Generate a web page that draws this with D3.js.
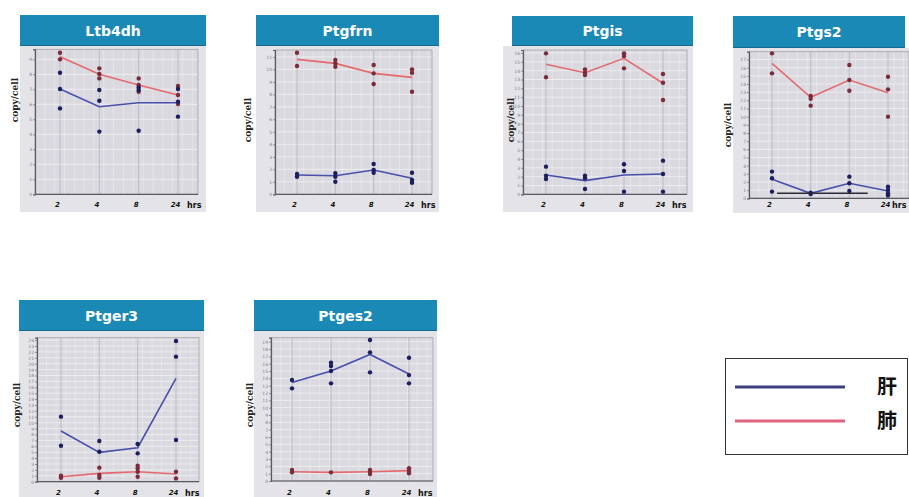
<!DOCTYPE html>
<html>
<head>
<meta charset="utf-8">
<script src="https://cdn.jsdelivr.net/npm/d3@7"></script>
<style>
  html, body { margin: 0; padding: 0; background: #ffffff; }
  svg { display: block; }
</style>
</head>
<body>
<svg id="chart" width="909" height="497"></svg>
<script>
// Gene expression time course, liver (肝) vs lung (肺)
const genes = ["Ltb4dh", "Ptgfrn", "Ptgis", "Ptgs2", "Ptger3", "Ptges2"];
const timeLabels = ["2", "4", "8", "24"];
const yMax = [9.67, 11.55, 16.34, 17.96, 24.4, 19.55];
const yTickCount = [9, 11, 16, 17, 24, 19];

// group means (drawn as lines)
const liverMean = [
  [7.02, 5.84, 6.11, 6.11],
  [1.55, 1.49, 1.95, 1.28],
  [2.19, 1.55, 2.19, 2.30],
  [2.33, 0.61, 1.84, 0.90],
  [8.59, 4.97, 5.76, 17.51],
  [13.45, 15.00, 17.27, 14.59]
];
const lungMean = [
  [9.18, 8.00, 7.29, 6.62],
  [10.80, 10.48, 9.68, 9.36],
  [14.72, 13.77, 15.40, 12.57],
  [16.53, 12.37, 14.49, 12.94],
  [0.85, 1.41, 1.69, 1.30],
  [1.27, 1.18, 1.27, 1.41]
];

// individual samples (drawn as dots)
const liverPoints = [
  [[8.11, 7.02, 5.73], [6.96, 6.24, 4.18], [7.13, 6.96, 4.24], [7.02, 6.18, 5.18]],
  [[1.63, 1.41], [1.68, 1.41, 1.01], [2.43, 1.95, 1.73], [1.73, 1.15, 0.93]],
  [[3.13, 2.11, 1.74], [2.11, 1.81, 0.60], [3.40, 2.64, 0.30], [3.81, 2.30, 0.30]],
  [[3.27, 2.45, 0.82], [0.69, 0.53], [2.65, 1.84, 0.90], [1.43, 1.02, 0.61, 0.33]],
  [[11.02, 6.10], [6.89, 5.08], [6.38, 4.80], [23.84, 21.19, 7.06]],
  [[13.77, 12.64], [16.14, 15.68, 15.00, 13.32], [19.23, 17.55, 14.82], [16.82, 14.45, 13.32]]
];
const lungPoints = [
  [[9.44, 9.00], [8.40, 8.02, 7.73], [7.73, 7.29, 6.84], [7.22, 6.62, 6.02]],
  [[11.33, 10.27], [10.75, 10.48, 10.21], [10.35, 9.68, 8.83], [10.00, 9.73, 8.21]],
  [[15.96, 13.25], [14.15, 13.77, 13.51], [15.96, 15.66, 14.26], [13.62, 12.64, 10.68]],
  [[17.76, 15.31], [12.53, 12.20, 11.35], [16.33, 14.49, 13.18], [14.90, 13.35, 10.00]],
  [[1.02, 0.68], [2.37, 1.13, 0.68], [2.71, 2.26, 1.69, 0.85], [1.69, 0.56]],
  [[1.50, 1.18], [1.18], [1.50, 1.27, 0.95], [1.73, 1.36, 1.05]]
];

const legendLabels = ["肝", "肺"];

// panel geometry: [x0, x1, y0, y1]
const layouts = [
  { title: [20, 206, 15, 46],  bg: [20, 206, 46, 212],  plot: [35, 198, 49.3, 194.3],  pts: [60, 178],  yl: [15, 100] },
  { title: [256, 439, 15, 46], bg: [256, 439, 46, 212], plot: [275, 432, 50, 194.3],   pts: [297, 412], yl: [248, 120] },
  { title: [512, 693, 16, 46], bg: [503, 693, 46, 212], plot: [523, 687, 50, 194.3],   pts: [546, 663], yl: [511, 120] },
  { title: [733, 905, 16, 48], bg: [733, 909, 48, 213], plot: [749, 915, 51.7, 198.3], pts: [772, 888], yl: [728, 125] },
  { title: [19, 204, 300, 331], bg: [19, 204, 331, 497], plot: [37, 199, 337.7, 481.7], pts: [61, 176], yl: [17, 405] },
  { title: [254, 437, 300, 331], bg: [254, 437, 331, 497], plot: [271, 433, 337.7, 481], pts: [292, 409], yl: [250, 405] }
];

const liverLine = "#4a4fac", lungLine = "#e36a6e";
const liverDot = "#1d1f5c", lungDot = "#7b2c3c";

const svg = d3.select("#chart");

genes.forEach((gene, i) => {
  const L = layouts[i];
  const g = svg.append("g");
  const [pl, pr, pt, pb] = L.plot;
  const right = Math.min(pr, 909);

  // grey panel background
  g.append("rect")
    .attr("x", L.bg[0]).attr("y", L.bg[2])
    .attr("width", L.bg[1] - L.bg[0]).attr("height", L.bg[3] - L.bg[2])
    .attr("fill", "#e4e4e8");
  g.append("rect")
    .attr("x", pl).attr("y", pt)
    .attr("width", right - pl).attr("height", pb - pt)
    .attr("fill", "#d9d9df");

  // title bar
  g.append("rect")
    .attr("x", L.title[0]).attr("y", L.title[2])
    .attr("width", L.title[1] - L.title[0]).attr("height", L.title[3] - L.title[2])
    .attr("fill", "#1b89b6");
  g.append("line")
    .attr("x1", L.title[0]).attr("x2", L.title[1])
    .attr("y1", L.title[3] - 0.5).attr("y2", L.title[3] - 0.5)
    .attr("stroke", "#136b8f").attr("stroke-width", 1);
  g.append("text")
    .attr("x", (L.title[0] + L.title[1]) / 2)
    .attr("y", (L.title[2] + L.title[3]) / 2 + 5)
    .attr("text-anchor", "middle")
    .attr("font-family", "DejaVu Sans, sans-serif")
    .attr("font-weight", "bold").attr("font-size", 14)
    .attr("fill", "#ffffff")
    .text(gene);

  const x = d3.scalePoint().domain(timeLabels).range(L.pts);
  const y = d3.scaleLinear().domain([0, yMax[i]]).range([pb, pt]);
  const ticks = d3.range(0, yTickCount[i] + 1);

  // horizontal grid
  g.selectAll(".hg").data(ticks.slice(1)).join("line")
    .attr("x1", pl).attr("x2", right)
    .attr("y1", d => y(d)).attr("y2", d => y(d))
    .attr("stroke", "#f2f2f4").attr("stroke-width", 0.8);
  // minor vertical grid
  const step = (L.pts[1] - L.pts[0]) / 3;
  const minor = d3.range(pl + step / 4, right, step / 4);
  g.selectAll(".mg").data(minor).join("line")
    .attr("x1", d => d).attr("x2", d => d)
    .attr("y1", pt).attr("y2", pb)
    .attr("stroke", "#ececf0").attr("stroke-width", 0.6);
  // category guides
  g.selectAll(".vg").data(timeLabels).join("line")
    .attr("x1", d => x(d)).attr("x2", d => x(d))
    .attr("y1", pt).attr("y2", pb)
    .attr("stroke", "#b4b4bc").attr("stroke-width", 0.8);

  // frame
  g.append("rect")
    .attr("x", pl).attr("y", pt)
    .attr("width", right - pl).attr("height", pb - pt)
    .attr("fill", "none").attr("stroke", "#a0a0a8").attr("stroke-width", 0.8);

  // y axis with tiny tick labels
  const yAxis = d3.axisLeft(y).tickValues(ticks).tickSize(2).tickFormat(d3.format("d"));
  const ya = g.append("g").attr("transform", `translate(${pl},0)`).call(yAxis);
  ya.select(".domain").attr("stroke", "#5a5a62").attr("stroke-width", 1.2);
  ya.selectAll(".tick line").attr("stroke", "#8a8a92");
  ya.selectAll(".tick text").attr("font-size", 4.5).attr("fill", "#80808a")
    .attr("font-family", "DejaVu Sans, sans-serif").attr("x", -3);

  // x axis
  const xAxis = d3.axisBottom(x).tickSize(0).tickPadding(0);
  const xa = g.append("g").attr("transform", `translate(0,${pb})`).call(xAxis);
  xa.select(".domain").attr("d", `M${pl},0H${right}`)
    .attr("stroke", "#5a5a62").attr("stroke-width", 1.2);
  const labelY = i < 4 ? 205 : 493;
  xa.selectAll(".tick text")
    .attr("transform", `translate(-3,${labelY - pb - 3})`)
    .attr("font-size", 7).attr("font-weight", "bold")
    .attr("font-style", "italic").attr("fill", "#111")
    .attr("font-family", "DejaVu Sans, sans-serif");
  const hrsX = Math.min(x(timeLabels[3]) + 9, 908 - 16);
  g.append("text")
    .attr("x", hrsX).attr("y", labelY + 3)
    .attr("font-size", 8).attr("font-weight", "bold").attr("fill", "#111")
    .attr("font-family", "DejaVu Sans, sans-serif")
    .text("hrs");

  // y label
  g.append("text")
    .attr("transform", `translate(${L.yl[0] + 3},${L.yl[1]}) rotate(-90)`)
    .attr("text-anchor", "middle")
    .attr("font-size", 9).attr("font-weight", "bold").attr("fill", "#222")
    .attr("font-family", "DejaVu Serif, serif")
    .text("copy/cell");

  // mean lines
  const line = d3.line().x((d, j) => x(timeLabels[j])).y(d => y(d));
  g.append("path").datum(lungMean[i]).attr("d", line)
    .attr("fill", "none").attr("stroke", lungLine).attr("stroke-width", 1.6);
  g.append("path").datum(liverMean[i]).attr("d", line)
    .attr("fill", "none").attr("stroke", liverLine).attr("stroke-width", 1.6);

  // sample dots
  const flat = (arr) => arr.flatMap((vals, j) => vals.map(v => ({ t: timeLabels[j], v })));
  g.selectAll(".lung").data(flat(lungPoints[i])).join("circle")
    .attr("cx", d => x(d.t)).attr("cy", d => y(d.v)).attr("r", 2.2)
    .attr("fill", lungDot);
  g.selectAll(".liver").data(flat(liverPoints[i])).join("circle")
    .attr("cx", d => x(d.t)).attr("cy", d => y(d.v)).attr("r", 2.2)
    .attr("fill", liverDot);

  // underline beneath the Ptgs2 axis
  if (gene === "Ptgs2") {
    g.append("line")
      .attr("x1", x(timeLabels[0]) + 5)
      .attr("x2", (x(timeLabels[2]) + x(timeLabels[3])) / 2 - 1)
      .attr("y1", pb - 5).attr("y2", pb - 5)
      .attr("stroke", "#2a2a36").attr("stroke-width", 1.4);
  }
});

// legend
const lg = svg.append("g");
lg.append("rect").attr("x", 725.5).attr("y", 358.5).attr("width", 182).attr("height", 96)
  .attr("fill", "#ffffff").attr("stroke", "#333").attr("stroke-width", 1);
["#3b3f80", "#e0627c"].forEach((c, k) => {
  lg.append("line").attr("x1", 735).attr("x2", 845)
    .attr("y1", 387 + k * 34).attr("y2", 387 + k * 34)
    .attr("stroke", c).attr("stroke-width", 3);
  lg.append("text").attr("x", 877).attr("y", 394 + k * 34)
    .attr("font-size", 20).attr("font-weight", "bold").attr("fill", "#111")
    .attr("font-family", "Noto Sans CJK SC, sans-serif")
    .text(legendLabels[k]);
});
</script>
</body>
</html>
